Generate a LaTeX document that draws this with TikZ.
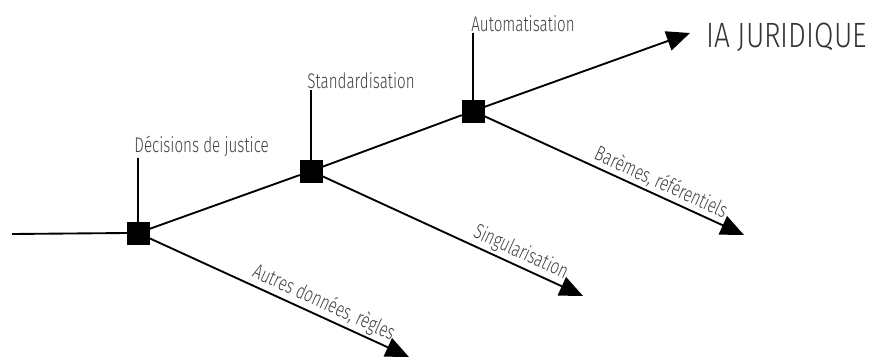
\documentclass[tikz,border=0pt]{standalone}
\usepackage{fontspec}
\setmainfont{Fira Sans Light}[FakeStretch=0.8]
\newfontfamily\etroite{Fira Sans Light}[FakeStretch=0.72]
\usepackage{xcolor}
\usetikzlibrary{arrows.meta,positioning,calc}
\definecolor{iaGris}{HTML}{404040}
\tikzset{
  jalon/.style={draw,fill=black,minimum size=0.66cm,inner sep=0pt},
  tige/.style={line width=0.9pt},
  axe/.style={line width=1.6pt},
  fleche/.style={axe,-{Triangle[length=0.7cm,width=0.6cm]}},
  etiq/.style={text=iaGris,font=\etroite\fontsize{18}{20}\selectfont,inner sep=1pt},
  branche/.style={text=iaGris,font=\etroite\fontsize{18}{20}\selectfont,sloped,above,inner sep=2pt},
  titre/.style={text=black!80,font=\fontsize{30}{34}\selectfont,inner sep=0pt},
}
\begin{document}
\begin{tikzpicture}[x=0.03cm,y=-0.03cm]
\useasboundingbox (0,0) rectangle (893,356);
\coordinate (debut) at (12,234);
\node[jalon] (dj) at (138,233) {};
\node[jalon] (st) at (311,171) {};
\node[jalon] (au) at (473,111) {};
\coordinate (fin) at (690,33);
\node[titre,anchor=west] (ia) at (706,37) {IA JURIDIQUE};
% bouts des branches
\coordinate (b1) at (409,357);
\coordinate (b2) at (583,296);
\coordinate (b3) at (744,235);
% etiquettes des jalons
\node[etiq,anchor=west] (ldj) at (133,146) {Décisions de justice};
\node[etiq,anchor=west] (lst) at (306,81) {Standardisation};
\node[etiq,anchor=west] (lau) at (470,24) {Automatisation};
\draw[tige] (dj.north) -- (dj.north |- ldj.south);
\draw[tige] (st.north) -- (st.north |- lst.south);
\draw[tige] (au.north) -- (au.north |- lau.south);
% axe principal
\draw[axe] (debut) -- (dj.west);
\draw[axe] (dj) -- (st);
\draw[axe] (st) -- (au);
\draw[fleche] (au) -- (fin);
% branches
\draw[fleche] (dj) -- node[branche,pos=0.65] {Autres données, règles} (b1);
\draw[fleche] (st) -- node[branche,pos=0.74] {Singularisation} (b2);
\draw[fleche] (au) -- node[branche,pos=0.66] {Barèmes, référentiels} (b3);
\end{tikzpicture}
\end{document}
